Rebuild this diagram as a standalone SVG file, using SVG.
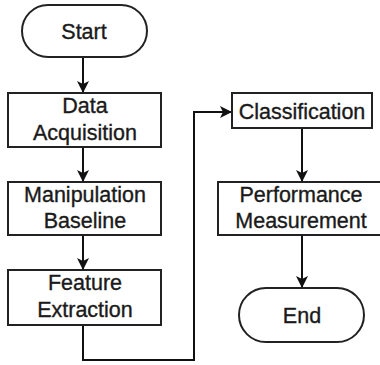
<svg xmlns="http://www.w3.org/2000/svg" width="380" height="365" viewBox="0 0 380 365">
<defs>
<marker id="arr" viewBox="0 0 12 12" refX="11" refY="6" markerWidth="12" markerHeight="12" markerUnits="userSpaceOnUse" orient="auto">
<path d="M0,0 L12,6 L0,12 L3,6 z" fill="#111"/>
</marker>
<style>
.n{fill:#fff;stroke:#222;stroke-width:2}
.t{font-family:"Liberation Sans",Arial,sans-serif;font-size:21.5px;fill:#1a1a1a;stroke:#1a1a1a;stroke-width:0.35;text-anchor:middle}
.c{fill:none;stroke:#111;stroke-width:2;marker-end:url(#arr)}
</style>
</defs>
<rect width="380" height="365" fill="#fff"/>
<g id="connectors">
<path class="c" d="M83,57 V92"/>
<path class="c" d="M83,147 V181"/>
<path class="c" d="M83,235 V269"/>
<path class="c" d="M83,325 V360 H194 V112 H231"/>
<path class="c" d="M302,128 V181"/>
<path class="c" d="M302,235 V287"/>
</g>
<g id="start">
<rect class="n" x="22" y="5" width="125" height="52" rx="26"/>
<text class="t" x="84" y="39">Start</text>
</g>
<g id="data-acquisition">
<rect class="n" x="8" y="93" width="153" height="54"/>
<text class="t" x="85" y="113">Data</text>
<text class="t" x="85" y="140">Acquisition</text>
</g>
<g id="manipulation-baseline">
<rect class="n" x="8" y="182" width="153" height="53"/>
<text class="t" x="85" y="202">Manipulation</text>
<text class="t" x="85" y="228">Baseline</text>
</g>
<g id="feature-extraction">
<rect class="n" x="8" y="270" width="153" height="55"/>
<text class="t" x="85" y="290">Feature</text>
<text class="t" x="85" y="317">Extraction</text>
</g>
<g id="classification">
<rect class="n" x="232" y="93" width="140" height="35"/>
<text class="t" x="302" y="119">Classification</text>
</g>
<g id="performance-measurement">
<rect class="n" x="218" y="182" width="168" height="53"/>
<text class="t" x="301" y="202">Performance</text>
<text class="t" x="301" y="228">Measurement</text>
</g>
<g id="end">
<rect class="n" x="239" y="288" width="125" height="54" rx="27"/>
<text class="t" x="302" y="323">End</text>
</g>
</svg>
